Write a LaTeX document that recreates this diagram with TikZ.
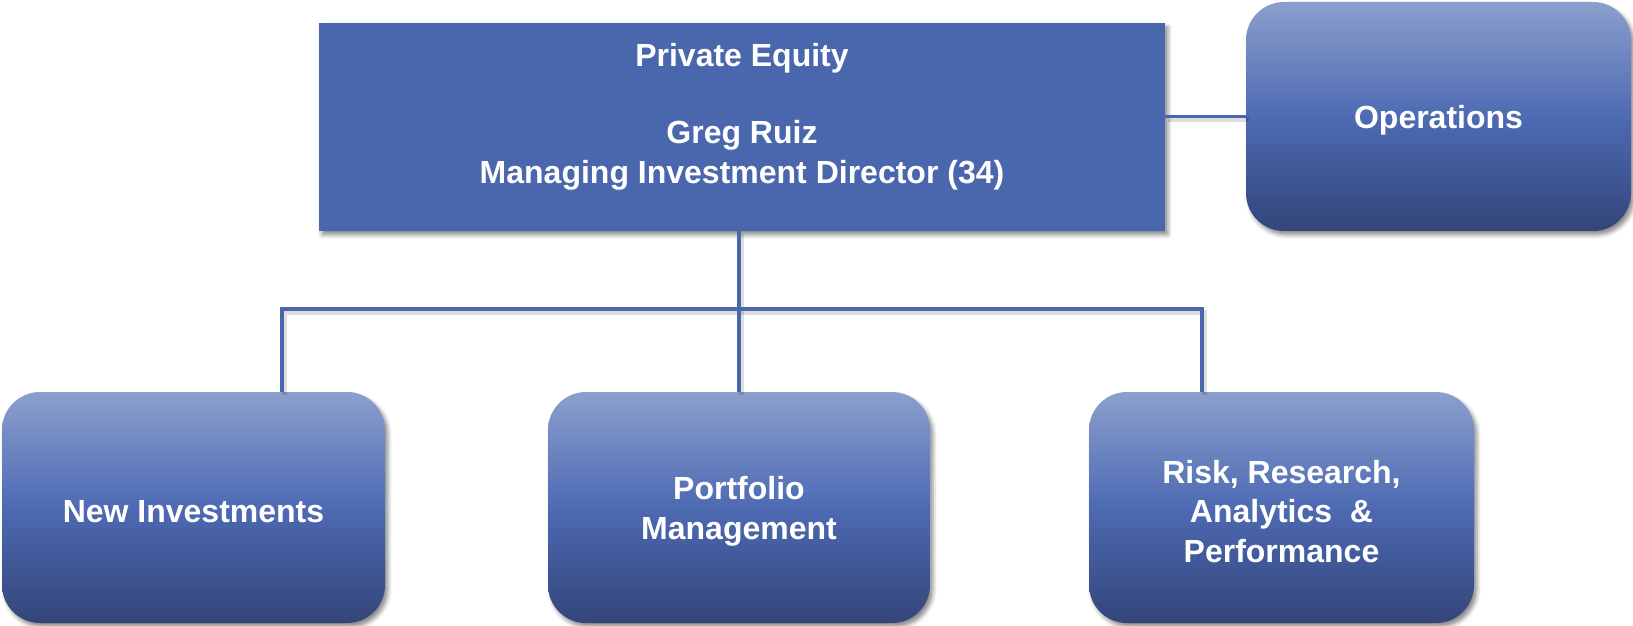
\documentclass[tikz,border=0pt]{standalone}
\usepackage{fontspec}
\setmainfont{Liberation Sans}
\usetikzlibrary{shadows.blur}
\definecolor{linec}{HTML}{4A67AD}
\definecolor{topfill}{HTML}{4A67AD}
\definecolor{gtop}{HTML}{8C9FCD}
\definecolor{gmid}{HTML}{4D6AB3}
\definecolor{gbot}{HTML}{33457A}
\begin{document}
\begin{tikzpicture}[x=1pt,y=1pt,
  shad/.style={blur shadow={shadow xshift=3pt, shadow yshift=-4pt, shadow blur radius=4pt, shadow opacity=45}},
  lbl/.style={text=white, font=\bfseries\fontsize{32}{39.5}\selectfont, align=center, inner sep=0pt},
  gbox/.style={rounded corners=38pt, shad, inner sep=0pt, outer sep=0pt,
    top color=gtop, bottom color=gbot, middle color=gmid},
  topbox/.style={fill=topfill, shad, inner sep=0pt, outer sep=0pt},
  conn/.style={draw=linec, line width=3.2pt},
  connshadow/.style={draw=black, opacity=0.13, line width=5pt, transform canvas={shift={(2.5pt,-3pt)}}}]
\useasboundingbox (0,0) rectangle (1633,625);
\coordinate (busL) at (282,316);
\coordinate (busR) at (1202,316);
\node[topbox, minimum width=846pt, minimum height=208pt] (top) at (742,498) {};
\node[gbox, minimum width=385pt, minimum height=229pt,
  label={[lbl, yshift=-4pt]center:Operations}] (ops) at (1438.5,508.5) {};
\node[gbox, minimum width=383pt, minimum height=231pt,
  label={[lbl, yshift=-4pt]center:New Investments}] (ni) at (193.5,117.5) {};
\node[gbox, minimum width=382pt, minimum height=231pt,
  label={[lbl, yshift=-4pt]center:{Portfolio\\Management}}] (pm) at (739,117.5) {};
\node[gbox, minimum width=385pt, minimum height=231pt,
  label={[lbl, yshift=-4pt]center:{Risk, Research,\\Analytics~~\&\\Performance}}] (rr) at (1281.5,117.5) {};
\node[lbl, anchor=north] (toptext) at (742,582) {Private Equity\\[38pt]Greg Ruiz\\Managing Investment Director (34)};
\path[connshadow] (pm.north) -- (pm.north |- top.south);
\path[connshadow] (ni.north -| busL) -- (busL) -- (busR) -- (rr.north -| busR);
\path[connshadow] (ops.west) -- (ops.west -| top.east);
\draw[conn] (pm.north) -- (pm.north |- top.south);
\draw[conn] (ni.north -| busL) -- (busL) -- (busR) -- (rr.north -| busR);
\draw[conn] (ops.west) -- (ops.west -| top.east);
\end{tikzpicture}
\end{document}
